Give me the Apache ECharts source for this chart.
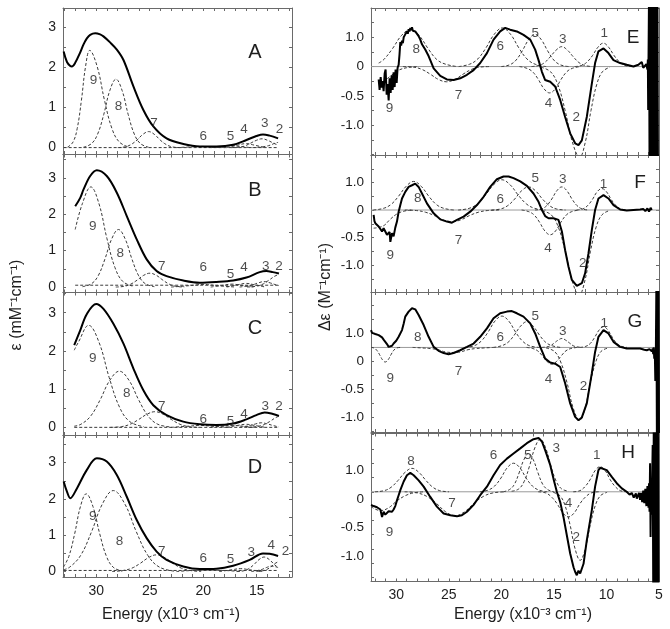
<!DOCTYPE html>
<html><head><meta charset="utf-8">
<script src="https://cdn.jsdelivr.net/npm/echarts@6/dist/echarts.min.js"></script>
<style>html,body{margin:0;padding:0;background:#fff}#c{width:670px;height:629px}</style>
</head><body><div id="c"></div>
<script>
// ---------------- DATA ----------------
// tick labels
const xLabelsL = [15, 20, 25, 30];
const xLabelsR = [5, 10, 15, 20, 25, 30];
const yLabelsL = [0, 1, 2, 3];
const yLabelPosR = [0.5, 0, -0.5, -1.0];
const yLabelPosG = [0.25, -0.25, -0.75, -1.25];
const yLabelTextR = ['1.0', '0', '-0.5', '-1.0'];

// ---- Panel A (absorption) ----
const solidA = [[33.04,2.40],[32.73,2.14],[32.42,2.04],[32.27,2.03],[31.96,2.12],[31.49,2.38],[31.18,2.58],[30.87,2.73],[30.56,2.82],[30.09,2.86],[29.63,2.83],[29.32,2.78],[28.7,2.63],[28.07,2.45],[27.45,2.19],[26.52,1.53],[25.59,0.94],[24.66,0.53],[23.42,0.23],[21.86,0.09],[20.31,0.03],[18.76,0.03],[17.2,0.07],[15.96,0.19],[15.03,0.29],[14.41,0.33],[13.79,0.30],[13.0,0.23]];
const compsA = [
 [[32.68,0.01],[32.16,0.14],[31.77,0.48],[31.38,1.18],[30.99,2.03],[30.6,2.43],[29.91,2.03],[29.22,1.18],[28.53,0.48],[27.84,0.14],[26.92,0.01]],
 [[31.19,0.01],[30.43,0.10],[29.86,0.34],[29.29,0.83],[28.72,1.43],[28.15,1.71],[27.58,1.43],[27.01,0.83],[26.44,0.34],[25.87,0.10],[25.11,0.01]],
 [[27.98,0],[27.26,0.02],[26.72,0.08],[26.18,0.19],[25.64,0.33],[25.1,0.40],[24.56,0.33],[24.02,0.19],[23.48,0.08],[22.94,0.02],[22.22,0]],
 [[22.5,0],[21,0.02],[20.2,0.03],[19.4,0.02],[18,0]],
 [[19.2,0],[18.2,0.03],[17.4,0.05],[16.6,0.03],[15.6,0]],
 [[17.8,0],[16.8,0.06],[16.0,0.10],[15.2,0.06],[14.2,0]],
 [[17.38,0],[16.66,0.01],[16.12,0.04],[15.58,0.11],[15.04,0.18],[14.5,0.22],[13.96,0.18],[13.42,0.11],[13.0,0.06]],
 [[15.4,0],[14.7,0.01],[14.2,0.03],[13.75,0.06],[13.3,0.11],[13.0,0.13]]
];
const labelsA = [[30.25,1.69,'9'],[27.92,1.04,'8'],[24.6,0.62,'7'],[20.0,0.28,'6'],[17.45,0.28,'5'],[16.18,0.46,'4'],[14.25,0.61,'3'],[12.86,0.46,'2']];
const baseA = [[33.04,0],[13.0,0]];

// ---- Panel B ----
const solidB = [[31.96,2.22],[31.49,2.45],[31.18,2.68],[30.56,3.05],[29.94,3.21],[29.01,3.05],[28.07,2.59],[27.14,1.95],[26.21,1.31],[25.28,0.76],[24.35,0.44],[23.42,0.30],[21.86,0.18],[20.31,0.12],[18.76,0.14],[17.2,0.18],[15.96,0.26],[14.72,0.41],[14.1,0.44],[13.5,0.41],[12.92,0.37]];
const compsB = [
 [[31.96,1.58],[31.28,2.30],[30.5,2.75],[29.75,2.30],[29.0,1.34],[28.25,0.54],[27.5,0.15],[26.5,0.02]],
 [[31.28,0.01],[30.44,0.09],[29.81,0.31],[29.18,0.77],[28.55,1.32],[27.92,1.58],[27.29,1.32],[26.66,0.77],[26.03,0.31],[25.4,0.09],[24.56,0.01]],
 [[28.17,0],[27.37,0.02],[26.77,0.08],[26.17,0.19],[25.57,0.32],[24.97,0.38],[24.37,0.32],[23.77,0.19],[23.17,0.08],[22.57,0.02],[21.77,0]],
 [[23.0,0],[21.4,0.035],[20.6,0.06],[20.0,0.07],[19.4,0.06],[18.6,0.035],[17.0,0]],
 [[19.3,0],[18.3,0.04],[17.3,0.08],[16.3,0.04],[15.3,0]],
 [[17.8,0],[16.8,0.06],[16.0,0.10],[15.2,0.06],[14.2,0]],
 [[16.6,0],[15.5,0.05],[14.9,0.11],[14.3,0.15],[13.7,0.11],[13.1,0.05],[12.92,0.04]],
 [[15.9,0],[15.1,0.02],[14.5,0.07],[13.9,0.18],[13.3,0.30],[12.92,0.35]]
];
const labelsB = [[30.31,1.67,'9'],[27.76,0.92,'8'],[23.88,0.56,'7'],[20.0,0.53,'6'],[17.45,0.35,'5'],[16.18,0.53,'4'],[14.16,0.56,'3'],[12.92,0.56,'2']];
const baseB = [[31.96,0.05],[12.92,0.05]];

// ---- Panel C ----
const solidC = [[32.05,2.15],[31.49,2.54],[30.87,2.97],[30.0,3.23],[29.32,3.10],[28.39,2.71],[27.45,2.19],[26.52,1.54],[25.59,0.97],[24.66,0.58],[23.42,0.32],[21.86,0.15],[20.31,0.08],[18.76,0.06],[17.2,0.10],[15.96,0.21],[15.03,0.32],[14.25,0.39],[13.48,0.35],[12.92,0.30]];
const compsC = [
 [[32.05,2.02],[31.66,2.23],[30.7,2.67],[29.74,2.23],[28.78,1.30],[27.82,0.53],[26.86,0.15],[25.58,0.02]],
 [[32.05,0.03],[31.43,0.08],[30.53,0.29],[29.63,0.72],[28.73,1.23],[27.83,1.47],[26.93,1.23],[26.03,0.72],[25.13,0.29],[24.23,0.08],[23.03,0.01]],
 [[28.66,0],[27.62,0.02],[26.84,0.08],[26.06,0.20],[25.28,0.34],[24.5,0.41],[23.72,0.34],[22.94,0.20],[22.16,0.08],[21.38,0.02],[20.34,0]],
 [[23,0],[21.4,0.03],[20.3,0.05],[19.2,0.03],[17.6,0]],
 [[19.3,0],[18.3,0.03],[17.3,0.05],[16.3,0.03],[15.3,0]],
 [[17.8,0],[16.8,0.05],[16.0,0.08],[15.2,0.05],[14.2,0]],
 [[16.6,0],[15.6,0.05],[15.1,0.09],[14.57,0.12],[14.0,0.09],[13.5,0.05],[12.92,0.01]],
 [[15.8,0],[15.0,0.02],[14.4,0.06],[13.8,0.15],[13.2,0.26],[12.92,0.29]]
];
const labelsC = [[30.31,1.80,'9'],[27.14,0.90,'8'],[23.88,0.54,'7'],[20.0,0.21,'6'],[17.45,0.17,'5'],[16.18,0.35,'4'],[14.19,0.54,'3'],[12.92,0.54,'2']];
const baseC = [[32.05,0],[12.92,0]];

// ---- Panel D ----
const solidD = [[33.04,2.48],[32.73,2.2],[32.42,2.02],[31.8,2.29],[30.87,2.80],[29.94,3.12],[29.01,3.03],[28.07,2.66],[27.14,2.06],[26.21,1.42],[25.28,0.92],[24.35,0.55],[23.42,0.32],[21.86,0.14],[20.31,0.07],[18.76,0.08],[17.2,0.16],[15.65,0.32],[14.41,0.50],[13.79,0.49],[13.0,0.43]];
const compsD = [
 [[33.04,0.13],[32.55,0.42],[32.01,1.04],[31.47,1.79],[30.93,2.14],[30.3,1.79],[29.67,1.04],[29.04,0.42],[28.41,0.12],[27.57,0.01]],
 [[33.04,0.05],[32.48,0.12],[31.46,0.44],[30.44,1.09],[29.42,1.86],[28.4,2.23],[27.32,1.86],[26.24,1.09],[25.16,0.44],[24.08,0.12],[22.64,0.01]],
 [[28.51,0],[27.47,0.03],[26.69,0.09],[25.91,0.22],[25.13,0.38],[24.35,0.46],[23.57,0.38],[22.79,0.22],[22.01,0.09],[21.23,0.03],[20.19,0]],
 [[22.5,0],[21.0,0.03],[19.5,0.04],[18.0,0.03],[16.5,0]],
 [[18.5,0],[17.3,0.05],[16.5,0.08],[15.7,0.05],[14.5,0]],
 [[16.86,0],[16.22,0.02],[15.74,0.08],[15.26,0.19],[14.78,0.33],[14.3,0.40],[13.82,0.33],[13.34,0.19],[13.0,0.11]],
 [[15.5,0],[14.6,0.05],[14.1,0.11],[13.6,0.15],[13.0,0.11]],
 [[15.0,0],[14.3,0.03],[13.8,0.1],[13.3,0.22],[13.0,0.27]]
];
const labelsD = [[30.31,1.51,'9'],[27.83,0.83,'8'],[23.88,0.55,'7'],[20.0,0.37,'6'],[17.45,0.34,'5'],[15.5,0.53,'3'],[13.63,0.73,'4'],[12.3,0.55,'2']];
const baseD = [[33.04,0.03],[13.0,0.03]];

// ---- Panel E (CD) ----
const solidE = [[31.67,-0.22],[31.58,-0.40],[31.48,-0.18],[31.38,-0.36],[31.29,-0.25],[31.2,-0.42],[31.1,-0.12],[31.01,-0.05],[30.91,-0.48],[30.82,-0.30],[30.72,-0.58],[30.63,-0.20],[30.53,-0.45],[30.44,-0.15],[30.34,-0.40],[30.25,-0.10],[30.15,-0.35],[30.06,-0.05],[29.96,-0.28],[29.87,-0.02],[29.77,0.03],[29.69,0.20],[29.61,0.42],[29.53,0.36],[29.45,0.44],[29.37,0.40],[29.29,0.50],[29.14,0.55],[28.98,0.60],[28.9,0.56],[28.82,0.64],[28.74,0.60],[28.66,0.66],[28.58,0.62],[28.5,0.67],[28.42,0.61],[28.34,0.63],[28.19,0.60],[28.03,0.57],[27.87,0.52],[27.71,0.46],[27.55,0.38],[27.24,0.29],[26.92,0.18],[26.76,0.11],[26.44,-0.03],[26.28,-0.06],[25.81,-0.16],[25.18,-0.22],[24.54,-0.23],[23.91,-0.20],[23.27,-0.14],[22.64,-0.06],[22.01,0.06],[21.37,0.23],[20.74,0.46],[20.11,0.60],[19.63,0.66],[19.16,0.63],[18.52,0.60],[17.89,0.54],[17.25,0.46],[16.78,0.29],[16.46,0.11],[16.14,-0.09],[15.83,-0.23],[15.35,-0.26],[14.88,-0.34],[14.4,-0.57],[13.93,-0.86],[13.45,-1.14],[12.98,-1.31],[12.66,-1.34],[12.34,-1.26],[11.87,-0.86],[11.39,-0.29],[11.08,0.06],[10.76,0.26],[10.28,0.31],[9.81,0.23],[9.33,0.11],[8.7,0.06],[8.07,0.03],[7.43,0.0],[6.96,0.03],[6.64,0.08],[6.5,-0.02],[6.32,0.0],[6.2,0.04],[6.1,-0.05],[6.06,0.12],[6.03,-0.74],[6.0,0.08],[5.95,1.2],[5.9,-1.7],[5.85,1.2],[5.8,-1.7],[5.75,1.2],[5.7,-1.7],[5.65,1.2],[5.6,-1.7],[5.55,1.2],[5.5,-1.7],[5.45,1.2],[5.4,-1.7],[5.35,1.2],[5.3,-1.7],[5.25,1.2],[5.2,-1.7],[5.15,1.2],[5.1,-1.7]];
const compsE = [
 [[31.67,-0.29],[31.18,-0.25],[30.46,-0.15],[29.74,-0.06],[29.02,-0.02],[28.06,0]],
 [[31.67,0.06],[31.18,0.12],[30.34,0.31],[29.5,0.53],[28.66,0.63],[27.82,0.53],[26.98,0.31],[26.14,0.12],[25.3,0.04],[24.18,0]],
 [[29.36,0],[28.32,-0.01],[27.54,-0.05],[26.76,-0.13],[25.98,-0.22],[25.2,-0.26],[24.42,-0.22],[23.64,-0.13],[22.86,-0.05],[22.08,-0.01],[21.04,0]],
 [[24.06,0],[23.02,0.04],[22.24,0.13],[21.46,0.32],[20.68,0.55],[19.9,0.66],[19.12,0.55],[18.34,0.32],[17.56,0.13],[16.78,0.04],[15.74,0]],
 [[20.0,0],[19.2,0.03],[18.6,0.11],[18.0,0.27],[17.4,0.46],[16.8,0.55],[16.2,0.46],[15.6,0.27],[15.0,0.11],[14.4,0.03],[13.6,0]],
 [[18.28,0],[17.56,-0.03],[17.02,-0.09],[16.48,-0.22],[15.94,-0.38],[15.4,-0.45],[14.86,-0.38],[14.32,-0.22],[13.78,-0.09],[13.24,-0.03],[12.52,0]],
 [[17.13,0],[16.41,0.02],[15.87,0.07],[15.33,0.17],[14.79,0.28],[14.25,0.34],[13.71,0.28],[13.17,0.17],[12.63,0.07],[12.09,0.02],[11.37,0]],
 [[16.23,-0.01],[15.31,-0.09],[14.62,-0.31],[13.93,-0.75],[13.24,-1.29],[12.55,-1.55],[12.01,-1.29],[11.47,-0.75],[10.93,-0.31],[10.39,-0.09],[9.67,-0.01]],
 [[13.02,0],[12.34,0.02],[11.83,0.08],[11.32,0.19],[10.81,0.33],[10.3,0.40],[9.79,0.33],[9.28,0.19],[8.77,0.08],[8.26,0.02],[7.58,0]]
];
const labelsE = [[30.63,-0.71,'9'],[28.09,0.29,'8'],[24.07,-0.49,'7'],[20.11,0.34,'6'],[16.78,0.57,'5'],[14.15,0.46,'3'],[10.22,0.57,'1'],[15.51,-0.63,'4'],[12.88,-0.86,'2']];

// ---- Panel F ----
const solidF = [[32.15,-0.09],[32.07,-0.2],[31.99,-0.24],[31.83,-0.22],[31.67,-0.30],[31.51,-0.28],[31.35,-0.39],[31.2,-0.33],[31.04,-0.36],[30.88,-0.45],[30.72,-0.48],[30.63,-0.40],[30.56,-0.58],[30.4,-0.42],[30.25,-0.48],[30.09,-0.32],[29.93,-0.21],[29.77,-0.03],[29.61,0.09],[29.45,0.21],[29.14,0.33],[28.82,0.42],[28.66,0.40],[28.5,0.45],[28.34,0.44],[28.19,0.48],[28.03,0.45],[27.87,0.42],[27.55,0.30],[27.08,0.12],[26.44,-0.06],[25.81,-0.17],[25.18,-0.21],[24.7,-0.23],[24.22,-0.18],[23.59,-0.12],[22.96,-0.03],[22.32,0.09],[21.69,0.24],[21.06,0.42],[20.42,0.56],[19.79,0.61],[19.31,0.61],[18.84,0.58],[18.2,0.52],[17.57,0.44],[16.94,0.30],[16.46,0.15],[16.14,0],[15.83,-0.11],[15.51,-0.15],[15.04,-0.15],[14.56,-0.18],[14.24,-0.39],[13.93,-0.73],[13.61,-1.03],[13.29,-1.27],[12.82,-1.38],[12.34,-1.33],[12.03,-1.15],[11.71,-0.79],[11.39,-0.36],[11.08,0],[10.76,0.21],[10.28,0.27],[9.81,0.21],[9.33,0.09],[8.7,0.01],[8.07,-0.01],[7.43,0],[6.8,0.01],[6.5,0.02],[6.3,-0.02],[6.1,0.03],[5.95,-0.03],[5.8,0.04],[5.69,0.0]];
const compsF = [
 [[32.15,-0.33],[31.24,-0.29],[30.58,-0.17],[29.92,-0.07],[29.26,-0.02],[28.38,0]],
 [[32.18,0],[31.22,0.03],[30.5,0.10],[29.78,0.25],[29.06,0.43],[28.34,0.52],[27.62,0.43],[26.9,0.25],[26.18,0.10],[25.46,0.03],[24.5,0]],
 [[29.18,0],[28.06,-0.01],[27.22,-0.04],[26.38,-0.10],[25.54,-0.18],[24.7,-0.21],[23.86,-0.18],[23.02,-0.10],[22.18,-0.04],[21.34,-0.01],[20.22,0]],
 [[24.11,0],[23.07,0.03],[22.29,0.11],[21.51,0.27],[20.73,0.46],[19.95,0.55],[19.17,0.46],[18.39,0.27],[17.61,0.11],[16.83,0.03],[15.79,0]],
 [[20.93,0],[20.05,0.02],[19.39,0.08],[18.73,0.20],[18.07,0.35],[17.41,0.42],[16.75,0.35],[16.09,0.20],[15.43,0.08],[14.77,0.02],[13.89,0]],
 [[18.07,0],[17.39,-0.03],[16.88,-0.09],[16.37,-0.22],[15.86,-0.38],[15.35,-0.45],[14.84,-0.38],[14.33,-0.22],[13.82,-0.09],[13.31,-0.03],[12.63,0]],
 [[16.8,0],[16.16,0.02],[15.68,0.08],[15.2,0.20],[14.72,0.35],[14.24,0.42],[13.76,0.35],[13.28,0.20],[12.8,0.08],[12.32,0.02],[11.68,0]],
 [[16.12,-0.01],[15.24,-0.09],[14.58,-0.31],[13.92,-0.75],[13.26,-1.29],[12.6,-1.55],[12.06,-1.29],[11.52,-0.75],[10.98,-0.31],[10.44,-0.09],[9.72,-0.01]],
 [[12.84,0],[12.24,0.02],[11.79,0.08],[11.34,0.19],[10.89,0.33],[10.44,0.39],[9.99,0.33],[9.54,0.19],[9.09,0.08],[8.64,0.02],[8.04,0]]
];
const labelsF = [[30.56,-0.82,'9'],[27.96,0.21,'8'],[24.07,-0.55,'7'],[20.11,0.19,'6'],[16.78,0.58,'5'],[14.15,0.56,'3'],[10.28,0.47,'1'],[15.57,-0.70,'4'],[12.25,-0.96,'2']];

// ---- Panel G ----
const solidG = [[32.4,0.31],[32.3,0.26],[32.15,0.28],[31.99,0.24],[31.83,0.25],[31.67,0.22],[31.51,0.20],[31.35,0.18],[31.2,0.14],[31.04,0.10],[30.88,0.06],[30.72,0.01],[30.56,-0.02],[30.4,0.03],[30.25,0.07],[30.0,0.12],[29.77,0.19],[29.61,0.22],[29.45,0.31],[29.3,0.42],[29.14,0.55],[28.98,0.58],[28.82,0.64],[28.66,0.66],[28.5,0.70],[28.34,0.70],[28.19,0.68],[27.87,0.58],[27.39,0.40],[26.92,0.19],[26.44,0.01],[25.97,-0.06],[25.49,-0.10],[25.02,-0.12],[24.54,-0.10],[23.91,-0.05],[23.27,0.01],[22.64,0.07],[22.01,0.19],[21.37,0.34],[20.74,0.52],[20.11,0.61],[19.47,0.64],[19.0,0.65],[18.52,0.61],[17.89,0.55],[17.25,0.43],[16.78,0.25],[16.3,0.01],[15.83,-0.20],[15.35,-0.27],[14.88,-0.29],[14.4,-0.35],[13.93,-0.64],[13.45,-1.0],[12.98,-1.24],[12.66,-1.30],[12.34,-1.25],[11.87,-1.0],[11.39,-0.46],[11.08,-0.08],[10.76,0.19],[10.28,0.31],[9.81,0.25],[9.33,0.10],[8.7,0.01],[8.07,-0.02],[7.43,-0.02],[6.8,-0.02],[6.4,-0.04],[6.16,-0.05],[5.9,-0.03],[5.69,-0.07],[5.6,-0.02],[5.55,-0.12],[5.5,0.0],[5.45,-0.2],[5.4,-0.05],[5.35,-0.6],[5.3,-0.1],[5.25,1.1],[5.2,-1.6],[5.15,1.1],[5.1,-1.6],[5.05,1.1],[5.0,-1.6]];
const compsG = [
 [[32.4,0],[32.12,-0.01],[31.85,-0.05],[31.58,-0.13],[31.31,-0.22],[31.04,-0.26],[30.77,-0.22],[30.5,-0.13],[30.23,-0.05],[29.96,-0.01],[29.6,0]],
 [[28.44,0],[27.48,-0.01],[26.76,-0.02],[26.04,-0.04],[25.32,-0.08],[24.6,-0.09],[23.88,-0.08],[23.16,-0.04],[22.44,-0.02],[21.72,-0.01],[20.76,0]],
 [[23.47,0],[22.59,0.03],[21.93,0.11],[21.27,0.27],[20.61,0.47],[19.95,0.56],[19.29,0.47],[18.63,0.27],[17.97,0.11],[17.31,0.03],[16.43,0]],
 [[20.77,0],[19.97,0.03],[19.37,0.09],[18.77,0.22],[18.17,0.38],[17.57,0.46],[16.97,0.38],[16.37,0.22],[15.77,0.09],[15.17,0.03],[14.37,0]],
 [[17.6,0],[17.0,-0.02],[16.55,-0.06],[16.1,-0.15],[15.65,-0.25],[15.2,-0.30],[14.75,-0.25],[14.3,-0.15],[13.85,-0.06],[13.4,-0.02],[12.8,0]],
 [[16.16,0],[15.68,0.01],[15.32,0.03],[14.96,0.08],[14.6,0.13],[14.24,0.16],[13.88,0.13],[13.52,0.08],[13.16,0.03],[12.8,0.01],[12.32,0]],
 [[15.75,-0.01],[14.95,-0.07],[14.35,-0.26],[13.75,-0.63],[13.15,-1.09],[12.55,-1.30],[12.04,-1.09],[11.53,-0.63],[11.02,-0.26],[10.51,-0.07],[9.83,-0.01]],
 [[12.52,0],[11.96,0.02],[11.54,0.07],[11.12,0.18],[10.7,0.31],[10.28,0.37],[9.86,0.31],[9.44,0.18],[9.02,0.07],[8.6,0.02],[8.04,0]]
];
const labelsG = [[30.56,-0.55,'9'],[27.96,0.18,'8'],[24.07,-0.43,'7'],[20.11,0.18,'6'],[16.78,0.55,'5'],[14.15,0.29,'3'],[10.22,0.43,'1'],[15.51,-0.57,'4'],[12.18,-0.69,'2']];

// ---- Panel H ----
const solidH = [[32.4,-0.23],[32.15,-0.25],[31.99,-0.22],[31.83,-0.27],[31.67,-0.26],[31.51,-0.31],[31.35,-0.44],[31.2,-0.35],[31.04,-0.40],[30.88,-0.38],[30.72,-0.34],[30.56,-0.32],[30.4,-0.35],[30.25,-0.31],[30.09,-0.25],[29.93,-0.15],[29.77,-0.06],[29.61,0.03],[29.29,0.18],[28.98,0.29],[28.66,0.33],[28.5,0.31],[28.34,0.29],[27.87,0.20],[27.39,0.09],[26.76,-0.09],[26.13,-0.26],[25.49,-0.38],[24.86,-0.41],[24.22,-0.43],[23.75,-0.41],[23.27,-0.35],[22.64,-0.23],[22.01,-0.06],[21.37,0.09],[20.74,0.29],[20.11,0.47],[19.47,0.58],[18.84,0.67],[18.2,0.76],[17.57,0.85],[16.94,0.92],[16.46,0.94],[16.14,0.88],[15.83,0.73],[15.35,0.47],[15.04,0.23],[14.72,0],[14.4,-0.18],[14.09,-0.44],[13.77,-0.76],[13.45,-1.08],[13.13,-1.32],[12.98,-1.40],[12.82,-1.46],[12.66,-1.38],[12.5,-1.43],[12.18,-1.26],[11.87,-0.85],[11.39,-0.32],[11.08,0.09],[10.76,0.38],[10.6,0.42],[10.44,0.44],[9.97,0.38],[9.49,0.26],[9.02,0.15],[8.54,0.06],[8.07,0],[7.8,-0.05],[7.59,-0.02],[7.4,-0.1],[7.2,-0.03],[7.11,-0.12],[6.9,-0.02],[6.8,-0.14],[6.7,-0.02],[6.6,-0.18],[6.5,0.02],[6.4,-0.2],[6.3,0.05],[6.2,-0.25],[6.1,0.1],[6.0,-0.28],[5.95,0.15],[5.9,-0.35],[5.85,0.5],[5.8,-0.79],[5.75,0.2],[5.7,-0.4],[5.6,0.82],[5.55,-1.6],[5.5,1.1],[5.45,-1.6],[5.4,1.1],[5.35,-1.6],[5.3,1.1],[5.25,-1.6],[5.2,1.1],[5.15,-1.6],[5.1,1.1],[5.05,-1.6]];
const compsH = [
 [[32.4,-0.26],[31.5,-0.33],[30.72,-0.28],[29.94,-0.16],[29.16,-0.07],[28.38,-0.02],[27.34,0]],
 [[32.02,0],[31.14,0.02],[30.48,0.08],[29.82,0.20],[29.16,0.34],[28.5,0.41],[27.84,0.34],[27.18,0.20],[26.52,0.08],[25.86,0.02],[24.98,0]],
 [[29.2,0],[28.0,-0.02],[27.1,-0.08],[26.2,-0.20],[25.3,-0.35],[24.4,-0.42],[23.5,-0.35],[22.6,-0.20],[21.7,-0.08],[20.8,-0.02],[19.6,0]],
 [[22.04,0],[21.24,0.03],[20.64,0.10],[20.04,0.24],[19.44,0.42],[18.84,0.50],[18.24,0.42],[17.64,0.24],[17.04,0.10],[16.44,0.03],[15.64,0]],
 [[19.81,0],[19.21,0.04],[18.76,0.13],[18.31,0.33],[17.86,0.56],[17.41,0.67],[16.96,0.56],[16.51,0.33],[16.06,0.13],[15.61,0.04],[15.01,0]],
 [[19.02,0.01],[18.34,0.05],[17.83,0.18],[17.32,0.45],[16.81,0.77],[16.3,0.92],[15.79,0.77],[15.28,0.45],[14.77,0.18],[14.26,0.05],[13.58,0.01]],
 [[16.49,0],[15.77,-0.02],[15.23,-0.09],[14.69,-0.21],[14.15,-0.37],[13.61,-0.44],[13.07,-0.37],[12.53,-0.21],[11.99,-0.09],[11.45,-0.02],[10.73,0]],
 [[15.06,-0.01],[14.42,-0.07],[13.94,-0.24],[13.46,-0.58],[12.98,-1.0],[12.5,-1.2],[12.02,-1.0],[11.54,-0.58],[11.06,-0.24],[10.58,-0.07],[9.94,-0.01]],
 [[13.16,0],[12.52,0.02],[12.04,0.09],[11.56,0.21],[11.08,0.37],[10.6,0.44],[10.12,0.37],[9.64,0.21],[9.16,0.09],[8.68,0.02],[8.04,0]]
];
const labelsH = [[30.63,-0.70,'9'],[28.6,0.53,'8'],[24.7,-0.2,'7'],[20.74,0.64,'6'],[17.48,0.64,'5'],[14.78,0.76,'3'],[10.92,0.64,'1'],[13.61,-0.2,'4'],[12.88,-0.79,'2']];

// ---------------- LAYOUT ----------------
const FONT = '"Liberation Sans", Arial, Helvetica, sans-serif';
const FRAME = '#6a6a6a';
const TXT = '#1e1e1e';

const panels = [
 {name:'A', side:'L', box:[63,8,229,146],    y:[-0.16,3.49], solid:solidA, comps:compsA, labels:labelsA, base:baseA, letter:[255,52]},
 {name:'B', side:'L', box:[63,154.5,229,138], y:[-0.15,3.64], solid:solidB, comps:compsB, labels:labelsB, base:baseB, letter:[255,190]},
 {name:'C', side:'L', box:[63,292.5,229,142.5],y:[-0.2,3.53], solid:solidC, comps:compsC, labels:labelsC, base:baseC, letter:[255,328]},
 {name:'D', side:'L', box:[63,435,229,142],  y:[-0.15,3.76], solid:solidD, comps:compsD, labels:labelsD, base:baseD, letter:[255,467], bottom:true},
 {name:'E', side:'R', box:[371,8,288,147],    y:[-1.51,1.0], solid:solidE, comps:compsE, labels:labelsE, letter:[633,38]},
 {name:'F', side:'R', box:[371,155,288,137],  y:[-1.49,1.0], solid:solidF, comps:compsF, labels:labelsF, letter:[640,183]},
 {name:'G', side:'R', box:[371,292,288,140],  y:[-1.51,0.99], solid:solidG, comps:compsG, labels:labelsG, letter:[635,322], gLabels:true},
 {name:'H', side:'R', box:[371,433.5,288,148], y:[-1.57,1.02], solid:solidH, comps:compsH, labels:labelsH, letter:[628,453], bottom:true, lowLabels:true}
];

function range(a, b, s) { const r = []; for (let v = a; v <= b + 1e-9; v += s) r.push(Math.round(v * 100) / 100); return r; }

const grid = [], xAxis = [], yAxis = [], series = [], graphic = [];

panels.forEach((p, i) => {
  const L = p.side === 'L';
  const xr = L ? [11.7, 33.1] : [5.0, 32.4];
  grid.push({left: p.box[0], top: p.box[1], width: p.box[2], height: p.box[3], containLabel: false});
  const xTicks = L ? range(12, 33, 1) : range(5, 32, 1);
  const baseX = {type: 'value', gridIndex: i, min: xr[0], max: xr[1], inverse: true, splitLine: {show: false},
    axisLine: {show: true, onZero: false, lineStyle: {color: FRAME, width: 1}},
    axisTick: {show: true, inside: true, length: 3, customValues: xTicks, lineStyle: {color: FRAME}}};
  xAxis.push(Object.assign({}, baseX, {position: 'bottom',
    axisLabel: {show: !!p.bottom, customValues: L ? xLabelsL : xLabelsR, color: TXT, fontSize: 14, fontFamily: FONT, margin: 7}}));
  xAxis.push(Object.assign({}, baseX, {position: 'top', axisLabel: {show: false}}));

  let yTicks, yLab;
  if (L) {
    yTicks = range(0, 3.5, 0.5);
    yLab = {customValues: yLabelsL, formatter: v => String(v), fontSize: 14};
  } else {
    yTicks = range(-1.5, 1.0, 0.25);
    const pos = p.gLabels ? yLabelPosG : yLabelPosR;
    yLab = {customValues: pos, fontSize: 13.5, formatter: v => { const k = pos.findIndex(q => Math.abs(q - v) < 1e-6); return k >= 0 ? yLabelTextR[k] : ''; }};
    if (p.lowLabels) yLab.verticalAlign = 'top';
  }
  const baseY = {type: 'value', gridIndex: i, min: p.y[0], max: p.y[1], splitLine: {show: false},
    axisLine: {show: true, onZero: false, lineStyle: {color: FRAME, width: 1}},
    axisTick: {show: true, inside: true, length: 3, customValues: yTicks, lineStyle: {color: FRAME}}};
  yAxis.push(Object.assign({}, baseY, {position: 'left',
    axisLabel: Object.assign({show: true, color: TXT, fontFamily: FONT, margin: 7}, yLab)}));
  yAxis.push(Object.assign({}, baseY, {position: 'right', axisLabel: {show: false}}));

  const xi = 2 * i, yi = 2 * i;
  if (!L) {
    series.push({type: 'line', xAxisIndex: xi, yAxisIndex: yi, data: [[xr[1], 0], [xr[0], 0]], showSymbol: false, silent: true,
      lineStyle: {color: '#9a9a9a', width: 1}, z: 1});
  } else {
    series.push({type: 'line', xAxisIndex: xi, yAxisIndex: yi, data: p.base, showSymbol: false, silent: true,
      lineStyle: {color: '#3a3a3a', width: 1, type: [3, 2]}, z: 1});
  }
  p.comps.forEach(c => {
    series.push({type: 'line', xAxisIndex: xi, yAxisIndex: yi, data: c, smooth: 0.4, showSymbol: false, silent: true,
      lineStyle: {color: '#3a3a3a', width: 1, type: [3, 2]}, z: 2});
  });
  series.push({type: 'line', xAxisIndex: xi, yAxisIndex: yi, data: p.solid, smooth: L ? 0.35 : false, showSymbol: false, silent: true,
    lineStyle: {color: '#000', width: 2}, z: 3});
  series.push({type: 'scatter', xAxisIndex: xi, yAxisIndex: yi, symbolSize: 0, silent: true, z: 4,
    data: p.labels.map(l => ({value: [l[0], l[1]], name: l[2]})),
    label: {show: true, position: 'inside', formatter: '{b}', color: TXT, fontSize: 13.5, fontFamily: FONT}});
  graphic.push({type: 'text', x: p.letter[0], y: p.letter[1], z: 10,
    style: {text: p.name, fontSize: L ? 20 : 19, fontFamily: FONT, fill: TXT, align: 'center', verticalAlign: 'middle'}});
});

graphic.push({type: 'text', x: 171, y: 615, style: {text: 'Energy (x10⁻³ cm⁻¹)', fontSize: 16, fontFamily: FONT, fill: TXT, align: 'center', verticalAlign: 'middle'}});
graphic.push({type: 'text', x: 523, y: 615, style: {text: 'Energy (x10⁻³ cm⁻¹)', fontSize: 16, fontFamily: FONT, fill: TXT, align: 'center', verticalAlign: 'middle'}});
graphic.push({type: 'text', x: 17, y: 305, rotation: Math.PI / 2, style: {text: 'ε (mM⁻¹cm⁻¹)', fontSize: 16, fontFamily: FONT, fill: TXT, align: 'center', verticalAlign: 'middle'}});
graphic.push({type: 'text', x: 326, y: 287, rotation: Math.PI / 2, style: {text: 'Δε (M⁻¹cm⁻¹)', fontSize: 16, fontFamily: FONT, fill: TXT, align: 'center', verticalAlign: 'middle'}});

const chart = echarts.init(document.getElementById('c'), null, {renderer: 'canvas'});
chart.setOption({animation: false, backgroundColor: '#fff', grid, xAxis, yAxis, series, graphic});
</script></body></html>
